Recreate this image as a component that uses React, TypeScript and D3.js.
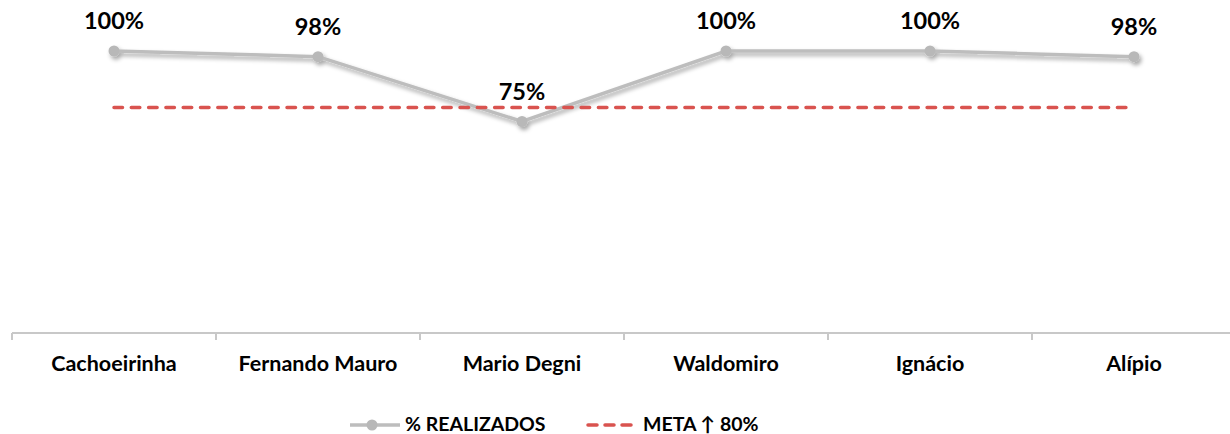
import React from "react";
import * as d3 from "d3";

const categories = ["Cachoeirinha", "Fernando Mauro", "Mario Degni", "Waldomiro", "Ignácio", "Alípio"];
const realizados = [1.0, 0.98, 0.75, 1.0, 1.0, 0.98];
const meta = [0.8, 0.8, 0.8, 0.8, 0.8, 0.8];
const seriesNames = ["% REALIZADOS", "META \u2191 80%"];

const W = 1230;
const H = 434;
const FONT = "Lato, Carlito, 'Open Sans', sans-serif";

export default function App() {
  const x = d3.scaleBand<string>().domain(categories).range([12, 1236]);
  const y = d3.scaleLinear().domain([0, 1]).range([333, 51]);
  const cx = (c: string) => (x(c) ?? 0) + x.bandwidth() / 2;

  const line = d3
    .line<number>()
    .x((_, i) => cx(categories[i]))
    .y((d) => y(d));

  const ticks = [...categories.map((c) => x(c) ?? 0), 1236];

  return (
    <svg
      width={W}
      height={H}
      style={{ position: "absolute", left: 0, top: 0, display: "block" }}
      fontFamily={FONT}
    >
      <defs>
        <filter id="sh" x="-20%" y="-50%" width="140%" height="200%">
          <feDropShadow dx="2" dy="3" stdDeviation="2" floodColor="#000" floodOpacity="0.35" />
        </filter>
      </defs>
      <rect width={W} height={H} fill="#fff" />

      {/* axis */}
      <line x1={12} x2={1236} y1={y(0)} y2={y(0)} stroke="#c8c8c8" strokeWidth={2} />
      {ticks.map((t, i) => (
        <line key={i} x1={t} x2={t} y1={y(0)} y2={y(0) + 7} stroke="#c8c8c8" strokeWidth={2} />
      ))}
      {categories.map((c) => (
        <text
          key={c}
          x={cx(c)}
          y={371}
          textAnchor="middle"
          fontSize={21.5}
          fontWeight="bold"
          fill="#000"
        >
          {c}
        </text>
      ))}

      {/* series */}
      <g filter="url(#sh)">
        <path d={line(realizados) ?? ""} fill="none" stroke="#bdbdbd" strokeWidth={3.5} />
        {realizados.map((v, i) => (
          <circle key={i} cx={cx(categories[i])} cy={y(v)} r={5.5} fill="#b8b8b8" />
        ))}
      </g>
      <path
        d={line(meta) ?? ""}
        fill="none"
        stroke="#d9534f"
        strokeWidth={3.5}
        strokeDasharray="8.5 8.8"
        strokeLinecap="round"
      />

      {realizados.map((v, i) => (
        <text
          key={i}
          x={cx(categories[i])}
          y={y(v) - 22}
          textAnchor="middle"
          fontSize={23.5}
          fontWeight="bold"
          fill="#000"
        >
          {d3.format(".0%")(v)}
        </text>
      ))}

      {/* legend */}
      <g>
        <line x1={350} x2={400} y1={425} y2={425} stroke="#bdbdbd" strokeWidth={3.5} />
        <circle cx={372} cy={425} r={5.5} fill="#b8b8b8" />
        <text x={405} y={431} fontSize={19.5} fontWeight="bold" fill="#000">
          {seriesNames[0]}
        </text>
        <line
          x1={588}
          x2={633}
          y1={425}
          y2={425}
          stroke="#d9534f"
          strokeWidth={3.5}
          strokeDasharray="9 8"
          strokeLinecap="round"
        />
        <text x={643} y={431} fontSize={19.5} fontWeight="bold" fill="#000">
          {seriesNames[1]}
        </text>
      </g>
    </svg>
  );
}
